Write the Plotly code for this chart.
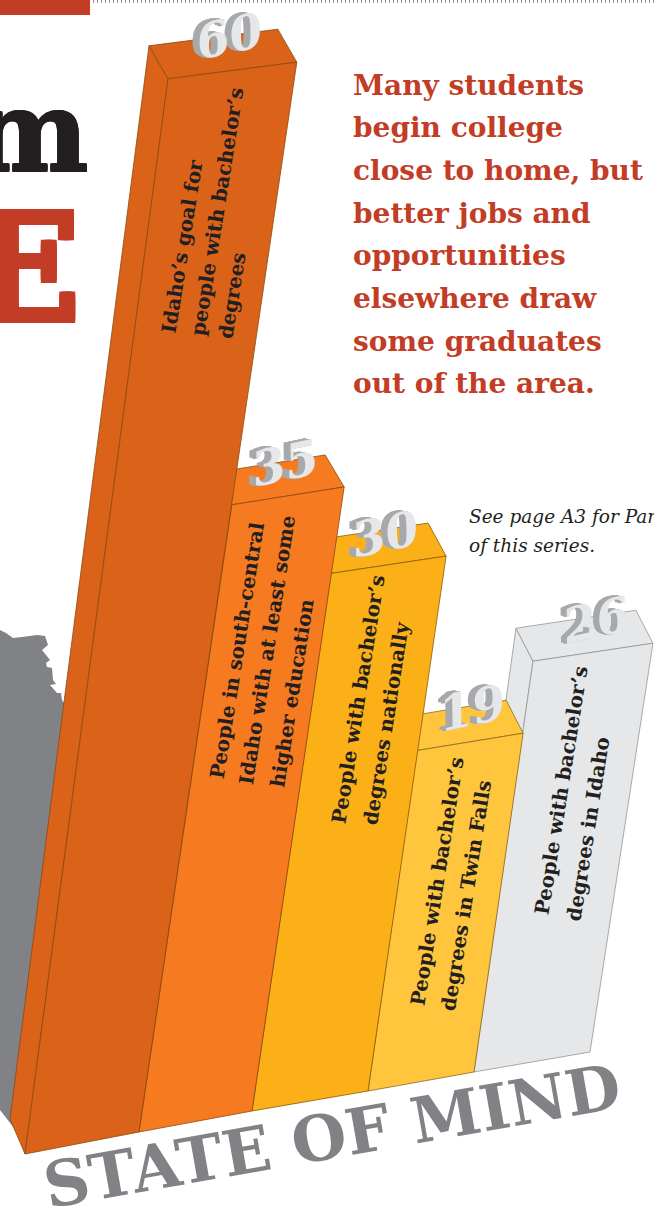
import plotly.graph_objects as go

# Share of people, by group
categories = [
    "Idaho's goal for people with bachelor's degrees",
    "People in south-central Idaho with at least some higher education",
    "People with bachelor's degrees nationally",
    "People with bachelor's degrees in Twin Falls",
    "People with bachelor's degrees in Idaho",
]
values = [60, 35, 30, 19, 26]
value_labels = ["60", "35", "30", "19", "26"]

front_colors = ["#DA6319", "#F57A20", "#FBB017", "#FFC53D", "#E6E7E8"]
edge_colors = ["#8A4A10", "#8A4A10", "#8A5A10", "#8A6A20", "#939598"]

# Oblique projection of the bar row: ground line, lean and vertical scale per bar
ground_x = [25, 139, 252, 368, 474, 590]
ground_y = [1154, 1132, 1111, 1091, 1072, 1052]
lean_left = [0.133, 0.148, 0.147, 0.144, 0.1436]
lean_right = [0.1475, 0.1477, 0.146, 0.145, 0.154]
px_per_unit = [17.92, 17.92, 17.92, 17.92, 15.8]  # the right-hand bar recedes, so it is foreshortened
depth_top = [(-19, -33), (-19, -32), (-18, -33), (-17, -33), (-17, -33)]
depth_base = (-15, -35)
right_rise = 0.995

bar_lines = [
    ["Idaho’s goal for", "people with bachelor’s", "degrees"],
    ["People in south-central", "Idaho with at least some", "higher education"],
    ["People with bachelor’s", "degrees nationally"],
    ["People with bachelor’s", "degrees in Twin Falls"],
    ["People with bachelor’s", "degrees in Idaho"],
]
bar_line_centers = [
    [(182, 247), (217, 212), (232, 296)],
    [(237, 650), (267, 650), (292, 693)],
    [(358, 700), (386, 724)],
    [(437, 882), (466, 896)],
    [(561, 791), (588, 829)],
]
value_centers = [(229, 36), (285, 463), (385, 534), (472, 708), (596, 620)]

callout_lines = [
    "Many students", "begin college", "close to home, but", "better jobs and",
    "opportunities", "elsewhere draw", "some graduates", "out of the area.",
]
note_lines = ["See page A3 for Part 1", "of this series."]

# Silhouette of the state behind the tallest bar
state_x = [0, 6, 13, 22, 37, 45, 48, 42, 50, 46, 47, 52, 53, 56, 50, 57, 61, 62, 63, 75, 60, 14, 0]
state_y = [630, 633, 638, 637, 635, 636, 645, 650, 660, 663, 667, 668, 680, 684, 685, 693, 693, 700, 702, 702, 1000, 1128, 1110]

RED = "#C33C25"
INK = "#231F20"
STATE_GREY = "#808285"
SERIF = "DejaVu Serif"


def heavy(color, r):
    """Text shadow ring that thickens a glyph's strokes by r pixels."""
    ring = [(r, 0), (-r, 0), (0, r), (0, -r), (r, r), (-r, r), (r, -r), (-r, -r)]
    return ", ".join(f"{a}px {b}px 0 {color}" for a, b in ring)


fig = go.Figure()

fig.add_trace(go.Scatter(x=state_x, y=state_y, mode="none", fill="toself", fillcolor=STATE_GREY))


def add_face(xs, ys, fill, edge):
    fig.add_trace(go.Scatter(
        x=xs + xs[:1], y=ys + ys[:1], mode="lines", fill="toself",
        fillcolor=fill, line=dict(color=edge, width=0.8),
    ))


# Far bars first, so that nearer ones overlap them
for i in reversed(range(len(values))):
    h = values[i] * px_per_unit[i]
    x0, y0 = ground_x[i], ground_y[i]
    x1, y1 = ground_x[i + 1], ground_y[i + 1]
    tlx, tly = x0 + lean_left[i] * h, y0 - h
    trx, try_ = x1 + lean_right[i] * h * right_rise, y1 - h * right_rise
    dx, dy = depth_top[i]
    add_face([x0 + depth_base[0], tlx + dx, tlx, x0],
             [y0 + depth_base[1], tly + dy, tly, y0], front_colors[i], edge_colors[i])
    add_face([tlx, tlx + dx, trx + dx, trx],
             [tly, tly + dy, try_ + dy, try_], front_colors[i], edge_colors[i])
    add_face([x0, tlx, trx, x1], [y0, tly, try_, y1], front_colors[i], edge_colors[i])

annotations = []


def label(text, x, y, size, color, angle=0, xanchor="center", bold=True, italic=False, shadow=None):
    font = dict(family=SERIF, size=size, color=color,
                weight="bold" if bold else "normal",
                style="italic" if italic else "normal")
    if shadow:
        font["shadow"] = shadow
    annotations.append(dict(
        x=x, y=y, xref="x", yref="y", text=text, showarrow=False, textangle=angle,
        xanchor=xanchor, yanchor="middle", borderpad=0, font=font,
    ))


# Headline fragments running in from the left
label("m", 90, 131, 112, INK, xanchor="right", shadow=heavy(INK, 1))
label("E", 81, 268, 148, RED, xanchor="right", shadow=heavy(RED, 3))

for n, line in enumerate(callout_lines):
    label(line, 352, 85 + n * 42.7, 28, RED, xanchor="left")

label(note_lines[0], 468, 516, 18.5, INK, xanchor="left", bold=False, italic=True)
label(note_lines[1], 468, 545, 18.5, INK, xanchor="left", bold=False, italic=True)

for lines, centers in zip(bar_lines, bar_line_centers):
    for line, (cx, cy) in zip(lines, centers):
        label(line, cx, cy, 19.8, INK, angle=-81)

# Raised numerals: a stack of grey copies under a pale face
for text, (cx, cy) in zip(value_labels, value_centers):
    for k in range(8, 0, -1):
        label(text, cx - k * 0.8, cy - k * 0.1, 48, "#A7A9AC", angle=-12, italic=True)
    label(text, cx, cy, 48, "#E6E7E8", angle=-12, italic=True)

label("STATE OF MIND", 332, 1136, 63, STATE_GREY, angle=-10)

fig.update_layout(
    width=654, height=1212, margin=dict(l=0, r=0, t=0, b=0),
    paper_bgcolor="white", plot_bgcolor="white", showlegend=False, hovermode=False,
    xaxis=dict(range=[0, 654], visible=False, fixedrange=True),
    yaxis=dict(range=[1212, 0], visible=False, fixedrange=True),
    annotations=annotations,
    shapes=[
        dict(type="rect", xref="x", yref="y", x0=0, x1=90, y0=0, y1=15, fillcolor=RED, line_width=0),
        dict(type="line", xref="x", yref="y", x0=93, x1=654, y0=1.5, y1=1.5,
             line=dict(color="#8E8F91", width=3, dash="1px,3px")),
    ],
)

fig.write_html("out.html", config=dict(displayModeBar=False))
